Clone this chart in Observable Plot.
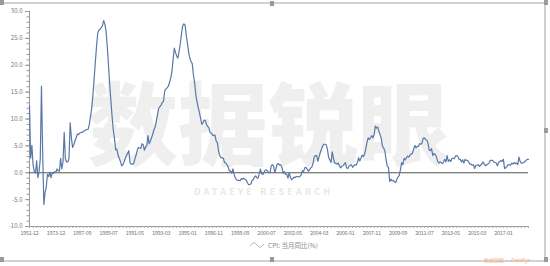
<!DOCTYPE html>
<html><head><meta charset="utf-8">
<script src="https://cdn.jsdelivr.net/npm/d3@7"></script>
<script src="https://cdn.jsdelivr.net/npm/@observablehq/plot@0.6"></script>
<style>
html,body{margin:0;padding:0;background:#fff;}
body{width:550px;height:266px;overflow:hidden;position:relative;font-family:"Noto Sans CJK SC","Noto Sans",sans-serif;}
#wm{position:absolute;left:88px;top:74px;font-size:90px;font-weight:900;color:#efefef;line-height:1;white-space:nowrap;z-index:0;}
#wm2{position:absolute;left:194px;top:187px;font-size:9px;font-weight:700;color:#e8e8e8;letter-spacing:3.2px;white-space:nowrap;z-index:0;line-height:1;}
#chart{position:relative;z-index:1;}
#chart svg{background:transparent;overflow:visible;}
#chart svg g[aria-label="x-axis tick label"] text{letter-spacing:-0.3px;}
#legend{position:relative;z-index:1;height:10px;line-height:10px;font-size:6.5px;color:#888;display:flex;justify-content:center;align-items:center;padding-left:18px;}
#legend svg{margin-right:4px;}
#frame{position:absolute;left:-2px;top:2px;width:546px;height:256px;border-top:2px solid #d2d2d2;border-right:2px solid #cfcfcf;border-bottom:2px solid #d2d2d2;z-index:2;pointer-events:none;}
.h{position:absolute;width:4px;height:5px;background:#9a9a9a;z-index:3;}
#wm3{position:absolute;left:484px;top:257px;font-size:5px;color:#f2b48a;z-index:3;white-space:nowrap;line-height:1;}
</style>
</head><body>
<div id="wm">数据锐眼</div>
<div id="wm2">DATAEYE RESEARCH</div>
<div id="chart"></div>
<div id="legend"><svg width="14" height="8"><path d="M0,5 C3,1 5,1 7,4 C9,7 11,7 14,3" fill="none" stroke="#a9b6c9" stroke-width="1"/></svg><span>CPI: 当月同比(%)</span></div>
<div id="frame"></div>
<div class="h" style="left:0;top:0"></div>
<div class="h" style="left:270px;top:1px"></div>
<div class="h" style="left:544px;top:0"></div>
<div class="h" style="left:544px;top:128px"></div>
<div class="h" style="left:0;top:257px"></div>
<div class="h" style="left:270px;top:257px"></div>
<div class="h" style="left:544px;top:257px"></div>
<div id="wm3">数据锐眼 · DataEye</div>
<script>
// Annual data 1951-1986 (year-over-year CPI, %)
const annualYears = [1951,1952,1953,1954,1955,1956,1957,1958,1959,1960,1961,1962,1963,1964,1965,1966,1967,1968,1969,1970,1971,1972,1973,1974,1975,1976,1977,1978,1979,1980,1981,1982,1983,1984,1985,1986];
const annualCPI = [12.5,2.7,5.1,1.4,0.3,-0.1,2.2,-0.9,0.3,2.5,16.1,3.8,-5.9,-3.7,-2.7,-0.3,-0.7,0.1,-0.9,0.0,-0.1,0.2,0.1,0.7,0.4,0.3,2.7,0.7,2.0,7.5,2.5,2.0,2.0,2.7,9.3,6.5];

// Monthly data from 1987-01 (year-over-year CPI, %)
const monthlyStartYear = 1987;
const monthlyCPI = [
  [4.7,5.2,5.9,6.5,7.2,7.1,7.4,7.5,7.5,7.7,7.8,8.0],
  [8.0,8.1,9.0,10.5,12.0,14.5,17.5,20.5,23.5,26.0,26.5,26.7],
  [27.0,27.4,28.3,27.6,26.3,23.5,20.0,16.5,13.5,10.5,8.0,6.4],
  [4.3,4.4,3.3,2.7,2.1,1.3,1.5,2.0,2.6,3.2,3.6,4.1],
  [1.9,1.6,1.6,1.7,2.5,3.2,4.1,4.7,4.6,4.5,5.4,5.2],
  [4.2,4.8,5.0,6.9,5.4,5.9,6.5,7.2,8.0,8.5,9.6,10.8],
  [12.0,12.3,12.6,13.1,13.3,15.2,15.6,15.8,16.1,16.8,17.6,18.8],
  [21.1,23.2,22.4,21.7,21.3,22.6,24.0,25.8,27.3,27.7,27.5,25.5],
  [24.1,22.4,21.3,20.7,20.3,18.2,16.7,14.5,13.2,12.1,11.2,10.1],
  [9.0,9.3,9.8,9.7,8.9,8.6,8.3,7.4,7.4,7.0,6.9,7.0],
  [5.9,5.6,4.0,3.2,2.8,2.8,2.7,1.9,1.8,1.5,1.1,0.4],
  [0.3,-0.1,0.7,-0.3,-1.0,-1.3,-1.4,-1.4,-1.5,-1.1,-1.2,-1.0],
  [-1.2,-1.3,-1.8,-2.2,-2.2,-2.1,-1.4,-1.3,-0.8,-0.6,-0.9,-1.0],
  [-0.2,0.7,-0.2,-0.3,0.1,0.5,0.5,0.3,0.0,0.0,1.3,1.5],
  [1.2,0.0,0.8,1.6,1.7,1.4,1.5,1.0,-0.1,0.2,-0.3,-0.3],
  [-1.0,0.0,-0.8,-1.3,-1.1,-0.8,-0.9,-0.7,-0.7,-0.8,-0.7,-0.4],
  [0.4,0.2,0.9,1.0,0.7,0.3,0.5,0.9,1.1,1.8,3.0,3.2],
  [3.2,2.1,3.0,3.8,4.4,5.0,5.3,5.3,5.2,4.3,2.8,2.4],
  [1.9,3.9,2.7,1.8,1.8,1.6,1.8,1.3,0.9,1.2,1.3,1.6],
  [1.9,0.9,0.8,1.2,1.4,1.5,1.0,1.3,1.5,1.4,1.9,2.8],
  [2.2,2.7,3.3,3.0,3.4,4.4,5.6,6.5,6.2,6.5,6.9,6.5],
  [7.1,8.7,8.3,8.5,7.7,7.1,6.3,4.9,4.6,4.0,2.4,1.2],
  [1.0,-1.6,-1.2,-1.5,-1.4,-1.7,-1.8,-1.2,-0.8,-0.5,0.6,1.9],
  [1.5,2.7,2.4,2.8,3.1,2.9,3.3,3.5,3.6,4.4,5.1,4.6],
  [4.9,4.9,5.4,5.3,5.5,6.4,6.5,6.2,6.1,5.5,4.2,4.1],
  [4.5,3.2,3.6,3.4,3.0,2.2,1.8,2.0,1.9,1.7,2.0,2.5],
  [2.0,3.2,2.1,2.4,2.1,2.7,2.7,2.6,3.1,3.2,3.0,2.5],
  [2.5,2.0,2.4,1.8,2.5,2.3,2.3,2.0,1.6,1.6,1.4,1.5],
  [0.8,1.4,1.4,1.5,1.2,1.4,1.6,2.0,1.6,1.3,1.5,1.6],
  [1.8,2.3,2.3,2.3,2.0,1.9,1.8,1.3,1.9,2.1,2.3,2.1],
  [2.5,0.8,0.9,1.2,1.5,1.5,1.4,1.8,1.6,1.9,1.7,1.8],
  [1.5,2.9,2.1,1.8,1.8,1.9,2.1,2.3,2.5,2.5]
];

const xTickLabels = ["1951-12","1973-12","1987-09","1989-07","1991-05","1993-03","1995-01","1996-11","1998-09","2000-07","2002-05","2004-03","2006-01","2007-11","2009-09","2011-07","2013-05","2015-03","2017-01"];
const yTickValues = [-10,-5,0,5,10,15,20,25,30];
const seriesName = "CPI: 当月同比(%)";

// build table
const data = [];
annualYears.forEach((y,i) => data.push({date: `${y}-12`, value: annualCPI[i]}));
monthlyCPI.forEach((row, yi) => row.forEach((v, mi) => {
  data.push({date: `${monthlyStartYear + yi}-${String(mi + 1).padStart(2, "0")}`, value: v});
}));
const cats = data.map(d => d.date);
const minorX = cats.filter((c, i) => i % 3 === 0);
const minorY = d3.range(-10, 31, 1);

const plot = Plot.plot({
  width: 550,
  height: 240,
  marginLeft: 29,
  marginRight: 22,
  marginTop: 11,
  marginBottom: 14,
  style: {fontFamily: '"Noto Sans CJK SC","Noto Sans",sans-serif', fontSize: "6px", color: "#777", background: "transparent", overflow: "visible"},
  x: {type: "point", domain: cats, padding: 0},
  y: {domain: [-10, 30]},
  marks: [
    Plot.axisY(minorY, {tickSize: 2.5, tickFormat: () => "", stroke: "#9a9a9a", label: null}),
    Plot.axisY(yTickValues, {tickSize: 4, tickPadding: 3, fontSize: 6, tickFormat: d => d.toFixed(1), stroke: "#9a9a9a", fill: "#777", label: null}),
    Plot.ruleX([cats[0]], {stroke: "#9a9a9a"}),
    Plot.ruleY([-10], {stroke: "#9a9a9a"}),
    Plot.axisX(minorX, {tickSize: 2, tickFormat: () => "", stroke: "#aaa", label: null}),
    Plot.axisX(xTickLabels, {tickSize: 0, tickPadding: 5, fontSize: 5.5, fill: "#777", label: null}),
    Plot.ruleY([0], {stroke: "#555", strokeWidth: 1}),
    Plot.lineY(data, {x: "date", y: "value", stroke: "#5878a6", strokeWidth: 1.2})
  ]
});
document.getElementById("chart").appendChild(plot);
document.querySelector("#legend span").textContent = seriesName;
</script>
</body></html>
